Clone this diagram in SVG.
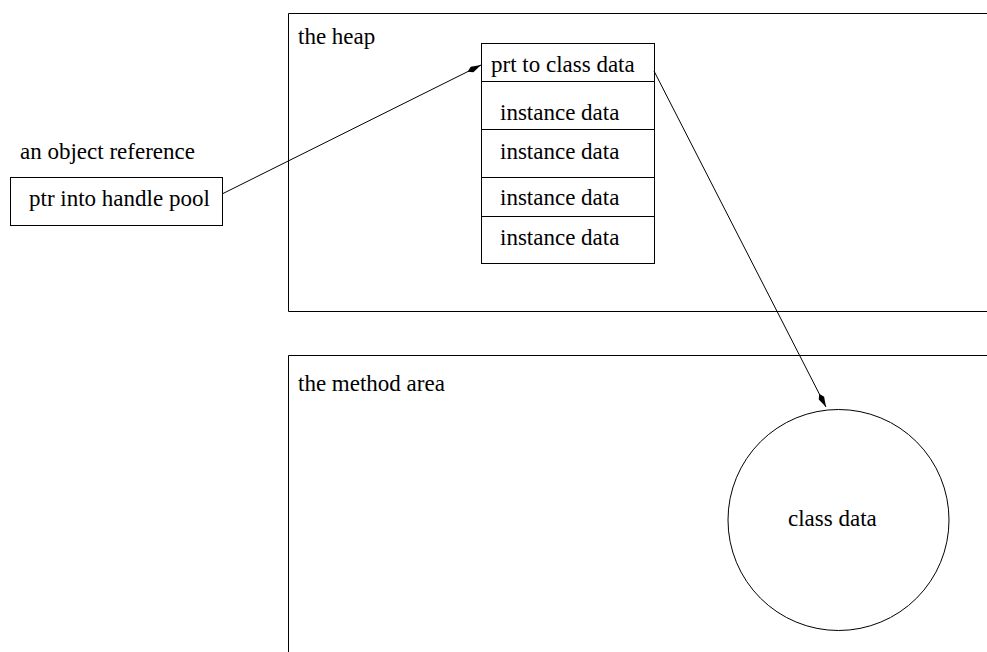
<svg xmlns="http://www.w3.org/2000/svg" width="987" height="652" viewBox="0 0 987 652">
  <style>
    text { font-family: "Liberation Serif", "Times New Roman", "DejaVu Serif", serif; font-size: 23px; fill: #000; }
    .box { fill: none; stroke: #000; stroke-width: 1; }
    .edge { fill: none; stroke: #000; stroke-width: 1; }
  </style>
  <defs>
    <marker id="arrow" viewBox="0 0 15 7" refX="15" refY="3.5" markerWidth="15" markerHeight="7" markerUnits="userSpaceOnUse" orient="auto">
      <path d="M0,3.5 L5,0.5 L15,3.5 L5,6.5 Z" fill="#000"/>
    </marker>
  </defs>

  <g id="heap">
    <path class="box" d="M990,13.5 H288.5 V311.5 H990"/>
    <text x="298" y="44">the heap</text>
  </g>

  <g id="method-area">
    <path class="box" d="M990,355.5 H288.5 V660"/>
    <text x="298" y="391">the method area</text>
  </g>

  <g id="object-reference">
    <text x="20" y="159">an object reference</text>
    <rect class="box" x="10.5" y="177.5" width="212" height="48"/>
    <text x="29" y="206">ptr into handle pool</text>
  </g>

  <g id="object">
    <rect class="box" x="481.5" y="43.5" width="173" height="220"/>
    <line class="box" x1="481.5" y1="81.5" x2="654.5" y2="81.5"/>
    <line class="box" x1="481.5" y1="129.5" x2="654.5" y2="129.5"/>
    <line class="box" x1="481.5" y1="177.5" x2="654.5" y2="177.5"/>
    <line class="box" x1="481.5" y1="216.5" x2="654.5" y2="216.5"/>
    <text x="491" y="72">prt to class data</text>
    <text x="500" y="120">instance data</text>
    <text x="500" y="159">instance data</text>
    <text x="500" y="205">instance data</text>
    <text x="500" y="245">instance data</text>
  </g>

  <g id="class-data">
    <circle class="box" cx="838.5" cy="520" r="110.5"/>
    <text x="788" y="526">class data</text>
  </g>

  <g id="connectors">
    <line class="edge" x1="222" y1="194" x2="481" y2="65" marker-end="url(#arrow)"/>
    <line class="edge" x1="654" y1="71" x2="826" y2="407" marker-end="url(#arrow)"/>
  </g>
</svg>
